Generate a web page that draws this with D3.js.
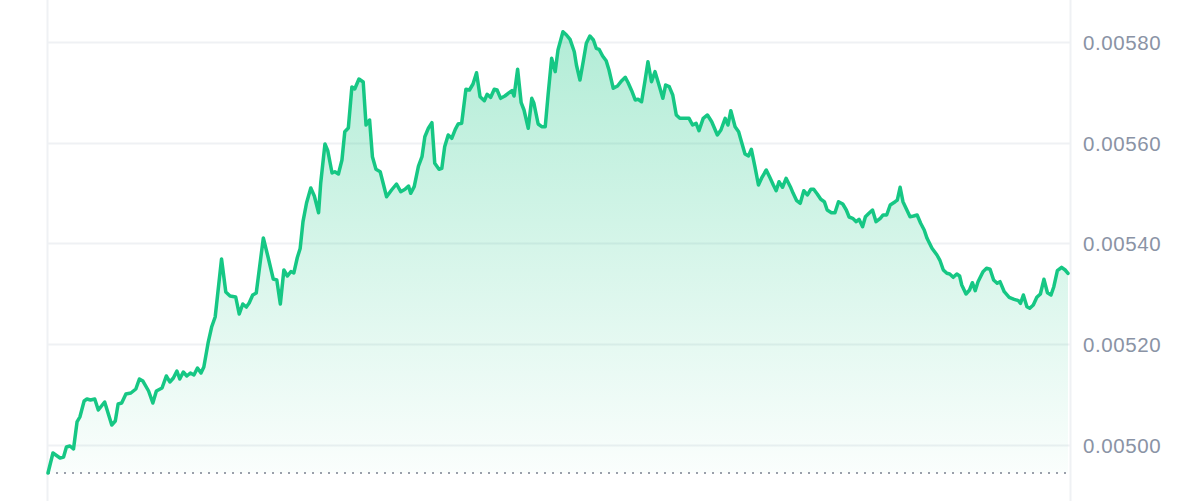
<!DOCTYPE html>
<html>
<head>
<meta charset="utf-8">
<script src="https://cdn.jsdelivr.net/npm/d3@7"></script>
<style>
  html, body { margin: 0; padding: 0; background: #ffffff; }
  svg { display: block; }
</style>
</head>
<body>
<svg id="chart" width="1200" height="501"></svg>
<script>
// Minutes since the start of the 24h window
const minutes = [0,7,13,17,22,26,31,36,41,45,51,55,60,66,71,80,90,95,99,104,110,117,124,129,134,142,148,153,161,167,172,177,182,186,191,196,201,206,211,216,220,226,231,236,245,251,257,265,270,275,280,284,289,294,304,311,318,323,328,333,338,343,347,352,356,360,365,371,376,382,385,391,395,401,405,410,415,419,424,429,433,439,445,449,454,458,463,469,478,485,492,498,504,509,512,517,523,528,532,537,542,546,552,556,560,565,570,575,579,584,590,595,600,605,610,616,620,625,630,634,639,645,651,655,658,663,668,672,678,683,686,692,697,702,706,711,716,720,727,732,737,743,746,751,756,760,765,770,774,778,783,788,792,798,804,810,815,819,824,829,833,838,843,847,852,857,863,868,872,877,882,887,892,899,905,910,915,919,925,931,937,945,950,956,960,964,970,975,979,984,989,993,998,1003,1008,1014,1019,1024,1028,1032,1037,1042,1048,1052,1057,1062,1067,1072,1077,1081,1086,1091,1096,1100,1106,1111,1116,1122,1127,1131,1136,1141,1145,1150,1154,1159,1164,1169,1175,1179,1184,1189,1196,1199,1203,1207,1212,1217,1222,1227,1232,1237,1241,1248,1255,1259,1264,1269,1273,1278,1283,1287,1290,1296,1301,1305,1309,1313,1320,1325,1330,1335,1340,1344,1350,1357,1364,1370,1373,1377,1382,1386,1391,1396,1401,1406,1411,1416,1420,1425,1431,1436,1440];

const prices = [0.0049444,0.0049841,0.0049782,0.0049742,0.0049762,0.004996,0.004998,0.0049921,0.0050457,0.0050556,0.0050873,0.0050913,0.0050893,0.0050913,0.0050695,0.0050854,0.0050397,0.0050476,0.0050814,0.0050834,0.0051012,0.0051032,0.0051112,0.005131,0.005127,0.0051072,0.0050834,0.0051072,0.0051131,0.005137,0.0051251,0.005133,0.0051469,0.005131,0.0051449,0.005137,0.0051429,0.005139,0.0051529,0.0051429,0.0051548,0.0052025,0.0052342,0.0052541,0.0053692,0.0053037,0.0052958,0.0052938,0.00526,0.0052799,0.0052739,0.0052819,0.0052978,0.0053017,0.0054109,0.0053712,0.0053295,0.0053275,0.0052799,0.0053474,0.0053355,0.0053444,0.0053414,0.0053722,0.0053901,0.0054433,0.0054804,0.0055102,0.0054943,0.0054611,0.0055201,0.0055975,0.0055842,0.0055399,0.0055425,0.005538,0.0055658,0.0056219,0.0056293,0.0057107,0.0057067,0.0057265,0.0057206,0.0056352,0.0056452,0.0055723,0.0055473,0.0055425,0.0054929,0.0055062,0.0055181,0.0055028,0.0055076,0.0055141,0.0054996,0.0055128,0.0055538,0.0055723,0.005612,0.0056287,0.0056398,0.0055592,0.0055473,0.0055493,0.0055922,0.0056154,0.0056088,0.0056267,0.0056372,0.0056386,0.0057061,0.0057047,0.0057166,0.0057391,0.0056914,0.0056835,0.0056962,0.0056902,0.0057061,0.0057047,0.0056882,0.0056928,0.0056994,0.0057033,0.0056928,0.0057458,0.0056795,0.005665,0.0056287,0.0056882,0.0056783,0.0056372,0.0056319,0.0056319,0.0056948,0.0057676,0.0057411,0.0057841,0.0058204,0.0058139,0.0058053,0.0057807,0.0057543,0.0057246,0.0057643,0.0057974,0.0058119,0.005804,0.0057875,0.0057855,0.0057722,0.0057629,0.0057444,0.0057081,0.0057127,0.0057232,0.0057299,0.0057192,0.0057033,0.0056849,0.0056862,0.0056815,0.0057246,0.0057609,0.0057212,0.0057411,0.0057127,0.0056882,0.0057147,0.0057113,0.0056948,0.0056551,0.0056485,0.0056485,0.0056485,0.0056352,0.0056386,0.0056239,0.0056485,0.0056551,0.0056418,0.0056154,0.0056253,0.0056485,0.0056352,0.0056636,0.0056319,0.0056219,0.0056021,0.0055777,0.0055737,0.005587,0.0055525,0.0055161,0.0055314,0.0055459,0.0055314,0.0055161,0.0055048,0.0055227,0.0055116,0.0055294,0.0055128,0.0054996,0.005485,0.0054798,0.0055048,0.0054963,0.0055076,0.0055076,0.0054983,0.0054877,0.005483,0.0054665,0.0054611,0.0054611,0.005483,0.0054784,0.0054665,0.0054526,0.00545,0.0054433,0.005448,0.0054334,0.0054532,0.00546,0.0054665,0.0054433,0.00545,0.0054566,0.0054566,0.0054764,0.005483,0.0054863,0.0055116,0.005483,0.0054679,0.0054532,0.0054546,0.0054566,0.0054401,0.0054268,0.0054103,0.0053905,0.0053772,0.0053672,0.0053474,0.0053408,0.0053395,0.0053329,0.0053395,0.0053355,0.0053176,0.0052998,0.0053077,0.0053222,0.0053063,0.0053242,0.005344,0.0053508,0.0053488,0.0053275,0.005321,0.0053242,0.0053043,0.0052932,0.0052892,0.0052865,0.0052813,0.0052978,0.0052745,0.0052714,0.0052779,0.0052932,0.0052998,0.0053289,0.0053023,0.0052978,0.0053142,0.005346,0.0053528,0.0053474,0.0053408];

const yTicks = [0.0050, 0.0052, 0.0054, 0.0056, 0.0058];
const yTickLabels = ["0.00500", "0.00520", "0.00540", "0.00560", "0.00580"];

const data = minutes.map((m, i) => ({ t: m, v: prices[i] }));
const openPrice = prices[0];

const svg = d3.select("#chart");
const W = 1200, H = 501;
const plotLeft = 48, plotRight = 1068, frameRight = 1071;

const x = d3.scaleLinear().domain([0, 1440]).range([plotLeft, plotRight]);
const y = d3.scaleLinear().domain([0.0050, 0.0058]).range([445, 42]);

const green = "#16c784";

// gradient
const defs = svg.append("defs");
const grad = defs.append("linearGradient")
  .attr("id", "areaGrad")
  .attr("gradientUnits", "userSpaceOnUse")
  .attr("x1", 0).attr("x2", 0)
  .attr("y1", y(d3.max(prices))).attr("y2", y(openPrice));
grad.append("stop").attr("offset", "0%").attr("stop-color", green).attr("stop-opacity", 0.33);
grad.append("stop").attr("offset", "100%").attr("stop-color", green).attr("stop-opacity", 0.02);

// frame verticals
svg.append("g").selectAll("line").data([plotLeft - 0.5, frameRight - 0.5]).join("line")
  .attr("x1", d => d).attr("x2", d => d)
  .attr("y1", 0).attr("y2", H)
  .attr("stroke", "#eff1f4").attr("stroke-width", 2);

// horizontal grid
svg.append("g").selectAll("line").data(yTicks).join("line")
  .attr("x1", plotLeft).attr("x2", frameRight - 1)
  .attr("y1", d => Math.round(y(d)) + 0.5).attr("y2", d => Math.round(y(d)) + 0.5)
  .attr("stroke", "#eff1f4").attr("stroke-width", 2);

// area
const area = d3.area()
  .x(d => x(d.t))
  .y0(y(openPrice))
  .y1(d => y(d.v));
svg.append("path").datum(data)
  .attr("d", area)
  .attr("fill", "url(#areaGrad)");

// dotted opening-price line
svg.append("line")
  .attr("x1", plotLeft).attr("x2", plotRight)
  .attr("y1", y(openPrice)).attr("y2", y(openPrice))
  .attr("stroke", "#9aa0ab").attr("stroke-width", 2)
  .attr("stroke-dasharray", "2,6");

// price line
const line = d3.line().x(d => x(d.t)).y(d => y(d.v));
svg.append("path").datum(data)
  .attr("d", line)
  .attr("fill", "none")
  .attr("stroke", green)
  .attr("stroke-width", 3.5)
  .attr("stroke-linejoin", "round")
  .attr("stroke-linecap", "round");

// right axis labels
const axis = d3.axisRight(y).tickValues(yTicks)
  .tickFormat((d, i) => yTickLabels[i]).tickSize(0).tickPadding(0);
const gAxis = svg.append("g").attr("transform", `translate(1083,0)`).call(axis);
gAxis.select(".domain").remove();
gAxis.selectAll("text")
  .attr("fill", "#8a93a5")
  .attr("font-family", "'Liberation Sans', Arial, Helvetica, sans-serif")
  .attr("font-size", "20.5px")
  .attr("letter-spacing", "0.6px")
  .attr("dy", "0.36em");
</script>
</body>
</html>
